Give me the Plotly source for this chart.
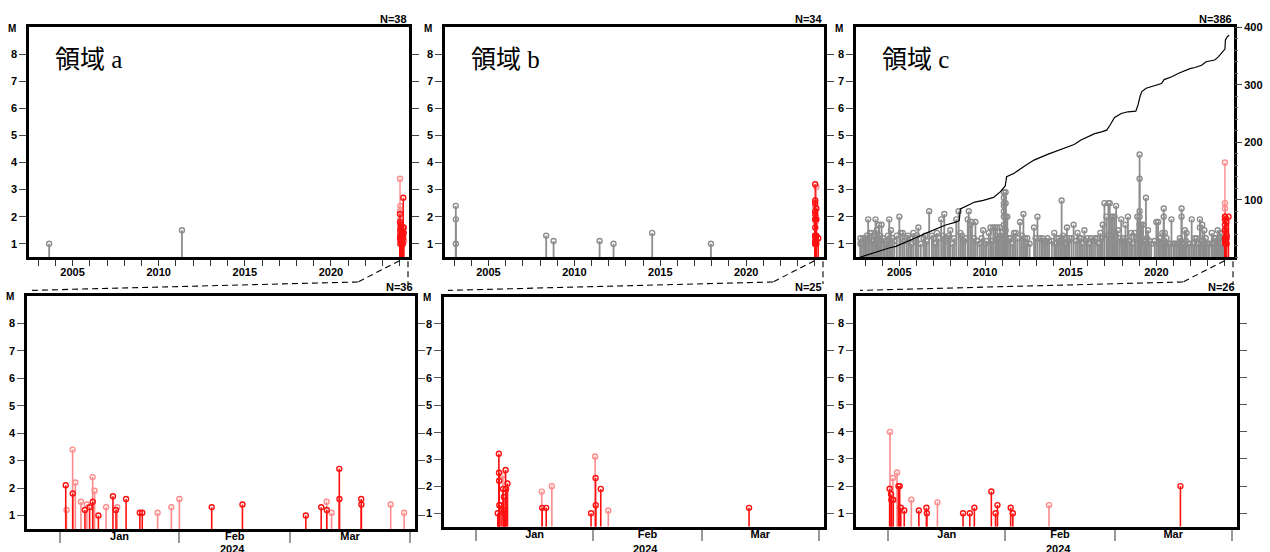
import pandas as pd
import plotly.graph_objects as go

W, H = 1270, 552

# ---------------- data ----------------
# Region a: events before the recent window (decimal year, magnitude)
a_old_year = [2003.64, 2011.35]
a_old_mag = [1.0, 1.5]
# Region a: recent window events
a_dates = ["2024-01-02 12:00", "2024-01-02 17:00", "2024-01-04 07:00", "2024-01-04 08:00",
           "2024-01-05 00:00", "2024-01-06 11:00", "2024-01-07 12:00", "2024-01-08 00:00",
           "2024-01-08 17:00", "2024-01-09 12:00", "2024-01-09 13:00", "2024-01-10 00:00",
           "2024-01-11 00:00", "2024-01-13 00:00", "2024-01-14 19:00", "2024-01-15 14:00",
           "2024-01-15 22:00", "2024-01-18 05:00", "2024-01-21 19:00", "2024-01-22 10:00",
           "2024-01-26 10:00", "2024-01-30 00:00", "2024-02-01 02:00", "2024-02-09 12:00",
           "2024-02-17 12:00", "2024-03-05 00:00", "2024-03-09 00:00", "2024-03-10 10:00",
           "2024-03-10 11:00", "2024-03-11 17:00", "2024-03-13 17:00", "2024-03-13 18:00",
           "2024-03-19 10:00", "2024-03-19 11:00", "2024-03-27 02:00", "2024-03-30 14:00"]
a_mags = [2.1, 1.2, 3.4, 1.8, 2.2, 1.5, 1.2, 1.4, 1.3, 2.4, 1.5, 1.9, 1.0, 1.3, 1.7, 1.2,
          1.3, 1.6, 1.1, 1.1, 1.1, 1.3, 1.6, 1.3, 1.4, 1.0, 1.3, 1.5, 1.2, 1.1, 2.7, 1.6,
          1.6, 1.4, 1.4, 1.1]
a_tone = ["r", "p", "p", "r", "p", "p", "r", "p", "r", "p", "r", "p", "r", "p", "r", "r",
          "p", "r", "r", "r", "p", "p", "p", "r", "r", "r", "r", "p", "r", "p", "r", "r",
          "r", "r", "p", "p"]

# Region b
b_old_year = [2003.10, 2003.10, 2003.10, 2008.36, 2008.79, 2011.47, 2012.28, 2014.53, 2017.95]
b_old_mag = [2.4, 1.9, 1.0, 1.3, 1.1, 1.1, 1.0, 1.4, 1.0]
b_dates = ["2024-01-06 17:00", "2024-01-07 00:00", "2024-01-07 01:00", "2024-01-07 02:00",
           "2024-01-07 03:00", "2024-01-07 14:00", "2024-01-08 02:00", "2024-01-08 03:00",
           "2024-01-08 08:00", "2024-01-08 12:00", "2024-01-08 14:00", "2024-01-08 19:00",
           "2024-01-08 22:00", "2024-01-09 07:00", "2024-01-18 10:00", "2024-01-18 12:00",
           "2024-01-19 14:00", "2024-01-21 02:00", "2024-01-31 12:00", "2024-02-01 14:00",
           "2024-02-01 17:00", "2024-02-01 18:00", "2024-02-03 02:00", "2024-02-05 02:00",
           "2024-03-13 12:00"]
b_mags = [1.0, 3.2, 2.5, 2.2, 1.3, 1.3, 2.4, 1.9, 1.6, 1.1, 1.0, 2.6, 1.9, 2.1, 1.8, 1.2,
          1.2, 2.0, 1.0, 3.1, 2.3, 1.3, 1.9, 1.1, 1.2]
b_tone = ["r", "r", "r", "r", "r", "r", "p", "r", "r", "r", "r", "r", "r", "r", "p", "r",
          "r", "p", "r", "p", "r", "r", "r", "p", "r"]

# Region c
c_old_year = [
    2002.73, 2002.73, 2002.89, 2003.02, 2003.18, 2003.28, 2003.38, 2003.61, 2003.69, 2003.81,
    2003.96, 2004.06, 2004.41, 2004.51, 2004.59, 2005.00, 2005.08, 2005.20, 2005.43, 2005.63,
    2005.82, 2006.11, 2006.41, 2006.74, 2007.00, 2007.19, 2007.44, 2007.62, 2007.82, 2007.97,
    2008.32, 2008.46, 2008.56, 2008.76, 2008.99, 2009.05, 2009.15, 2009.24, 2009.44, 2009.69,
    2009.89, 2010.09, 2010.22, 2010.32, 2010.48, 2010.59, 2010.71, 2010.87, 2011.00,
    2011.10, 2011.10, 2011.10, 2011.10, 2011.10, 2011.10, 2011.10,
    2011.20, 2011.20, 2011.20, 2011.20, 2011.30, 2011.49, 2011.69, 2011.79, 2012.04, 2012.24,
    2012.33, 2012.47, 2012.86, 2013.06, 2013.19, 2013.35, 2013.55, 2013.74, 2014.04, 2014.19,
    2014.29, 2014.47, 2014.62, 2014.78, 2014.92, 2015.17, 2015.40, 2015.60, 2015.80, 2015.99,
    2016.19, 2016.42, 2016.73, 2016.87, 2016.97, 2017.09, 2017.20, 2017.28, 2017.36, 2017.46,
    2017.56, 2017.65, 2017.75, 2017.95, 2018.05, 2018.20, 2018.34, 2018.53, 2018.73, 2018.89,
    2019.02, 2019.02, 2019.02, 2019.02, 2019.02, 2019.02,
    2019.12, 2019.22, 2019.39, 2019.51, 2019.61, 2020.00, 2020.10, 2020.20, 2020.35,
    2020.43, 2020.43, 2020.49, 2020.59, 2020.69, 2020.88, 2021.08, 2021.18, 2021.27, 2021.37,
    2021.47, 2021.47, 2021.57, 2021.66, 2021.76, 2021.86, 2022.06, 2022.25, 2022.35,
    2022.54, 2022.54, 2022.68, 2022.80, 2022.94, 2023.03, 2023.23, 2023.38, 2023.46, 2023.58,
    2023.72, 2023.85,
    2002.80, 2002.95, 2003.10, 2003.45, 2003.52, 2003.75, 2003.88, 2004.15, 2004.25, 2004.33,
    2004.70, 2004.85, 2005.30, 2005.52, 2005.72, 2005.95, 2006.02, 2006.25, 2006.50, 2006.60,
    2006.90, 2007.10, 2007.30, 2007.55, 2007.70, 2007.90, 2008.10, 2008.20, 2008.66, 2008.85,
    2009.35, 2009.55, 2009.80, 2010.00, 2010.40, 2010.65, 2010.80, 2010.93, 2011.05, 2011.15,
    2011.25, 2011.40, 2011.60, 2011.90, 2012.15, 2012.40, 2012.60, 2012.95, 2013.30, 2013.45,
    2013.65, 2013.90, 2014.10, 2014.38, 2014.55, 2014.70, 2014.85, 2015.05, 2015.30, 2015.50,
    2015.70, 2015.90, 2016.10, 2016.30, 2016.55, 2016.65, 2016.80, 2017.15, 2017.40, 2017.50,
    2017.60, 2017.85, 2018.00, 2018.12, 2018.27, 2018.45, 2018.62, 2018.80, 2018.95, 2019.05,
    2019.08, 2019.30, 2019.45, 2019.70, 2019.90, 2020.15, 2020.27, 2020.40, 2020.55, 2020.78,
    2021.00, 2021.42, 2021.52, 2021.72, 2021.95, 2022.15, 2022.45, 2022.60, 2022.75, 2022.88,
    2023.10, 2023.30, 2023.52, 2023.65, 2023.78, 2023.92]
c_old_mag = [
    1.2, 1.0, 1.2, 1.2, 1.9, 1.4, 1.4, 1.9, 1.5, 1.7,
    1.7, 1.2, 1.9, 1.5, 1.2, 2.0, 1.4, 1.4, 1.2, 1.2,
    1.4, 1.6, 1.2, 2.2, 1.2, 1.4, 1.9, 2.1, 1.2, 1.5,
    1.9, 2.2, 1.4, 1.1, 1.9, 2.2, 1.7, 1.8, 1.8, 1.0,
    1.5, 1.1, 1.4, 1.6, 1.6, 1.6, 1.6, 1.6, 1.4,
    2.9, 2.7, 2.5, 2.4, 2.2, 2.0, 1.7,
    2.9, 2.5, 2.0, 1.5, 2.0, 1.2, 1.4, 1.4, 1.8, 2.1,
    1.2, 1.2, 1.6, 2.0, 1.2, 1.2, 1.1, 1.1, 1.4, 1.2,
    1.2, 2.6, 1.2, 1.6, 1.2, 1.7, 1.4, 1.2, 1.5, 1.2,
    1.2, 1.2, 1.4, 1.7, 2.5, 2.0, 2.5, 2.5, 2.0, 2.0,
    2.0, 2.4, 1.5, 1.9, 1.2, 1.7, 2.0, 1.4, 1.4, 2.0,
    4.3, 3.4, 2.2, 2.0, 1.7, 1.5,
    1.7, 1.7, 2.7, 1.5, 1.1, 1.8, 1.8, 1.2, 1.4,
    2.3, 2.0, 1.4, 1.2, 1.0, 1.9, 1.0, 1.0, 1.0, 1.2,
    2.3, 2.0, 1.0, 1.5, 1.4, 1.0, 1.9, 1.2, 1.2,
    1.9, 1.6, 1.7, 1.5, 1.0, 1.0, 1.4, 1.2, 1.2, 1.5,
    1.4, 1.4,
    1.0, 1.1, 1.3, 1.1, 1.3, 1.2, 1.3, 1.1, 1.0, 1.3,
    1.1, 1.3, 1.1, 1.3, 1.0, 1.2, 1.3, 1.0, 1.3, 1.1,
    1.3, 1.0, 1.2, 1.3, 1.1, 1.3, 1.0, 1.2, 1.3, 1.2,
    1.2, 1.1, 1.2, 1.0, 1.1, 1.3, 1.2, 1.3, 1.3, 1.2,
    1.1, 1.2, 1.0, 1.2, 1.3, 1.0, 1.0, 1.2, 1.1, 1.0,
    1.2, 1.1, 1.0, 1.1, 1.3, 1.0, 1.1, 1.2, 1.1, 1.2,
    1.0, 1.1, 1.0, 1.1, 1.2, 1.0, 1.2, 1.3, 1.2, 1.4,
    1.1, 1.2, 1.0, 1.1, 1.2, 1.1, 1.0, 1.2, 1.3, 1.2,
    1.4, 1.1, 1.2, 1.0, 1.1, 1.0, 1.0, 1.1, 1.0, 1.0,
    1.0, 1.1, 1.0, 1.1, 1.0, 1.0, 1.0, 1.1, 1.0, 1.2,
    1.0, 1.0, 1.1, 1.2, 1.0, 1.2]
c_dates = ["2024-01-01 08:00", "2024-01-01 10:30", "2024-01-01 17:00", "2024-01-01 19:00",
           "2024-01-02 05:00", "2024-01-02 07:00", "2024-01-03 07:00", "2024-01-03 16:00",
           "2024-01-04 00:00", "2024-01-04 07:00", "2024-01-05 05:00", "2024-01-07 02:00",
           "2024-01-09 02:00", "2024-01-11 02:00", "2024-01-11 05:00", "2024-01-14 00:00",
           "2024-01-20 19:00", "2024-01-22 14:00", "2024-01-23 19:00", "2024-01-28 07:00",
           "2024-01-29 10:00", "2024-01-29 22:00", "2024-02-02 10:00", "2024-02-03 00:00",
           "2024-02-12 14:00", "2024-03-18 10:00"]
c_mags = [1.9, 4.0, 1.7, 1.5, 2.3, 1.5, 2.5, 2.0, 2.0, 1.2, 1.1, 1.5, 1.1, 1.2, 1.0, 1.4,
          1.0, 1.0, 1.2, 1.8, 1.0, 1.3, 1.2, 1.0, 1.3, 2.0]
c_tone = ["r", "p", "r", "r", "p", "r", "p", "r", "r", "r", "r", "p", "r", "r", "r", "p",
          "r", "r", "r", "r", "r", "r", "r", "r", "p", "r"]

# Region c cumulative number of events (decimal year, count)
cum_year = [2002.70, 2002.90, 2003.30, 2003.60, 2004.00, 2004.40, 2004.80, 2005.30, 2005.90,
            2006.50, 2007.10, 2007.70, 2008.30, 2008.50, 2008.56, 2008.90, 2009.40, 2009.90,
            2010.50, 2010.90, 2011.10, 2011.18, 2011.26, 2011.70, 2012.27, 2012.86, 2013.65,
            2014.43, 2015.20, 2015.60, 2016.00, 2016.40, 2016.80, 2017.10, 2017.30, 2017.56,
            2017.95, 2018.34, 2018.80, 2018.93, 2019.05, 2019.15, 2019.40, 2019.70, 2020.00,
            2020.30, 2020.45, 2020.90, 2021.30, 2021.66, 2021.96, 2022.25, 2022.64, 2022.90,
            2023.40, 2023.60, 2023.90, 2024.00, 2024.03, 2024.15, 2024.25]
cum_count = [0, 2, 6, 9, 13, 16, 19, 26, 33, 41, 48, 56, 61, 64, 84, 89, 96, 99, 104, 114,
             120, 124, 140, 146, 158, 169, 179, 187, 196, 204, 210, 215, 218, 221, 230, 243,
             250, 253, 254, 265, 280, 288, 294, 297, 299, 302, 309, 314, 320, 325, 328, 330,
             334, 340, 343, 348, 358, 362, 378, 384, 386]

n_long = [38, 34, 386]
n_recent = [36, 25, 26]
region_names = ["領域 a", "領域 b", "領域 c"]

LONG_RANGE = [2002.47, 2024.53]
RECENT_RANGE = ["2023-12-23 10:00", "2024-04-02 10:00"]
M_RANGE = [0.5, 9.0]
M_TICKS = [1, 2, 3, 4, 5, 6, 7, 8]
YEAR_TICKS = [2005, 2010, 2015, 2020]
CUM_RANGE = [0, 400]
CUM_TICKS = [100, 200, 300, 400]

# ---------------- styling / layout geometry (pixels) ----------------
GRAY = "#8d8d8d"
RED = "#ff1010"
PINK = "#ff8c8c"
TICK_FONT = dict(family="Liberation Sans, Arial, sans-serif", size=11, color="black", weight="bold")

top_x = [(29, 409), (445, 824), (856, 1234)]
top_y = (21.5, 254)
bot_x = [(27, 415), (444, 824), (856, 1237)]
bot_y = [(293, 529), (294, 526.5), (293.5, 526.5)]


def px_x(p):
    return p / W


def px_y(p):
    return 1 - p / H


def dec_year(s):
    t = pd.Timestamp(s)
    start = pd.Timestamp(year=t.year, month=1, day=1)
    end = pd.Timestamp(year=t.year + 1, month=1, day=1)
    return t.year + (t - start) / (end - start)


def stem_xy(xs, ms, base=M_RANGE[0]):
    X, Y = [], []
    for x, m in zip(xs, ms):
        X += [x, x, None]
        Y += [base, m, None]
    return X, Y


fig = go.Figure()


def add_stems(xs, ms, color, xa, ya, width=1.6):
    if not xs:
        return
    X, Y = stem_xy(xs, ms)
    fig.add_trace(go.Scatter(x=X, y=Y, mode="lines", line=dict(color=color, width=width),
                             xaxis=xa, yaxis=ya, hoverinfo="skip", showlegend=False))
    fig.add_trace(go.Scatter(x=list(xs), y=list(ms), mode="markers",
                             marker=dict(symbol="circle-open", size=5, color=color,
                                         line=dict(color=color, width=1.4)),
                             xaxis=xa, yaxis=ya, hoverinfo="skip", showlegend=False))


def split_tone(dates, mags, tone, key):
    d = [x for x, t in zip(dates, tone) if t == key]
    m = [x for x, t in zip(mags, tone) if t == key]
    return d, m


regions = [
    (a_old_year, a_old_mag, a_dates, a_mags, a_tone),
    (b_old_year, b_old_mag, b_dates, b_mags, b_tone),
    (c_old_year, c_old_mag, c_dates, c_mags, c_tone),
]

for i, (oy, om, rd, rm, rt) in enumerate(regions):
    xt, yt = f"x{i + 1}", f"y{i + 1}"
    xb, yb = f"x{i + 4}", f"y{i + 4}"
    # long-term panel
    if i == 2:
        fig.add_trace(go.Scatter(x=cum_year, y=cum_count, mode="lines",
                                 line=dict(color="black", width=1.2),
                                 xaxis="x3", yaxis="y7", hoverinfo="skip", showlegend=False))
    add_stems(oy, om, GRAY, xt, yt, width=1.8)
    for key, col in (("p", PINK), ("r", RED)):
        d, m = split_tone(rd, rm, rt, key)
        add_stems([dec_year(s) for s in d], m, col, xt, yt, width=1.4)
    # recent window panel
    for key, col in (("p", PINK), ("r", RED)):
        d, m = split_tone(rd, rm, rt, key)
        add_stems(d, m, col, xb, yb, width=1.6)

layout = dict(width=W, height=H, margin=dict(l=0, r=0, t=0, b=0),
              paper_bgcolor="white", plot_bgcolor="white", showlegend=False)

box_line = dict(showline=True, linewidth=2.5, linecolor="black", showgrid=False, zeroline=False)

for i in range(3):
    l, r = top_x[i]
    layout[f"xaxis{i + 1}"] = dict(
        domain=[px_x(l), px_x(r)], anchor=f"y{i + 1}", range=LONG_RANGE,
        tickvals=YEAR_TICKS, ticks="outside", ticklen=6, tickwidth=1, tickcolor="#333",
        minor=dict(dtick=1, tick0=2000, ticks="outside", ticklen=6, tickwidth=1, tickcolor="#333"),
        tickfont=TICK_FONT, ticklabelstandoff=-3, mirror=True, **box_line)
    layout[f"yaxis{i + 1}"] = dict(
        domain=[px_y(top_y[1]), px_y(top_y[0])], anchor=f"x{i + 1}", range=M_RANGE,
        tickvals=M_TICKS, ticks="outside", ticklen=7, tickwidth=1.2, tickcolor="#444",
        tickfont=TICK_FONT, mirror=(True if i == 2 else "ticks"), **box_line)
    l, r = bot_x[i]
    t, b = bot_y[i]
    layout[f"xaxis{i + 4}"] = dict(
        domain=[px_x(l), px_x(r)], anchor=f"y{i + 4}", type="date", range=RECENT_RANGE,
        dtick="M1", tick0="2024-01-01", tickformat="%b", ticklabelmode="period",
        ticks="outside", ticklen=11, tickwidth=1.5, tickcolor="#999",
        tickfont=TICK_FONT, ticklabelstandoff=-16, mirror=True, **box_line)
    layout[f"yaxis{i + 4}"] = dict(
        domain=[px_y(b), px_y(t)], anchor=f"x{i + 4}", range=M_RANGE,
        tickvals=M_TICKS, ticks="outside", ticklen=7, tickwidth=1.2, tickcolor="#555",
        tickfont=TICK_FONT, mirror="ticks", **box_line)

layout["yaxis7"] = dict(
    overlaying="y3", anchor="x3", side="right", range=CUM_RANGE, tickvals=CUM_TICKS,
    ticks="outside", ticklen=7, tickwidth=1.2, tickcolor="#444",
    minor=dict(dtick=20, ticks="outside", ticklen=3, tickwidth=1, tickcolor="#666"),
    tickfont=TICK_FONT, showline=False, showgrid=False, zeroline=False)

annotations = []
shapes = []
small_bold = dict(family="Liberation Sans, Arial, sans-serif", size=11, color="black", weight="bold")
label_font = dict(family="Liberation Serif, Noto Sans CJK JP, serif", size=25, color="black")

for i in range(3):
    tl, tr = top_x[i]
    bl, br = bot_x[i]
    bt, bb = bot_y[i]
    # sample counts
    annotations.append(dict(xref="paper", yref="paper", x=px_x(tr), y=px_y(13.5),
                            xanchor="right", yanchor="middle", showarrow=False,
                            text=f"N={n_long[i]}", font=small_bold))
    annotations.append(dict(xref="paper", yref="paper", x=px_x(br), y=px_y(284),
                            xanchor="right", yanchor="middle", showarrow=False,
                            text=f"N={n_recent[i]}", font=small_bold))
    # magnitude axis titles
    annotations.append(dict(xref="paper", yref="paper", x=px_x(tl - 17), y=px_y(23),
                            xanchor="center", yanchor="middle", showarrow=False,
                            text="M", font=dict(small_bold, size=10)))
    annotations.append(dict(xref="paper", yref="paper", x=px_x(bl - 17), y=px_y(bt + 1),
                            xanchor="center", yanchor="middle", showarrow=False,
                            text="M", font=dict(small_bold, size=10)))
    # region names
    annotations.append(dict(xref="paper", yref="paper", x=px_x(tl + 24), y=px_y(54),
                            xanchor="left", yanchor="middle", showarrow=False,
                            text=region_names[i], font=label_font))
    # year under the month axis
    annotations.append(dict(xref=f"x{i + 4}", yref="paper", x="2024-02-15", y=px_y(541),
                            xanchor="center", yanchor="top", showarrow=False,
                            text="2024", font=small_bold))
    # dashed zoom connectors from the long-term axis to the recent-window panel
    start_px = tl + (dec_year(RECENT_RANGE[0]) - LONG_RANGE[0]) / (LONG_RANGE[1] - LONG_RANGE[0]) * (tr - tl)
    bend_px = tr - 51
    dash = dict(color="black", width=1.1, dash="6px,4px")
    shapes.append(dict(type="line", xref="paper", yref="paper",
                       x0=px_x(start_px), y0=px_y(257.5), x1=px_x(bend_px), y1=px_y(279),
                       line=dash))
    shapes.append(dict(type="line", xref="paper", yref="paper",
                       x0=px_x(bend_px), y0=px_y(279), x1=px_x(bl + 4), y1=px_y(287.5),
                       line=dash))
    shapes.append(dict(type="line", xref="paper", yref="paper",
                       x0=px_x(tr - 1), y0=px_y(258), x1=px_x(tr - 1), y1=px_y(281),
                       line=dash))

layout["annotations"] = annotations
layout["shapes"] = shapes
fig.update_layout(**layout)

fig.write_html("out.html", config={"displayModeBar": False})
